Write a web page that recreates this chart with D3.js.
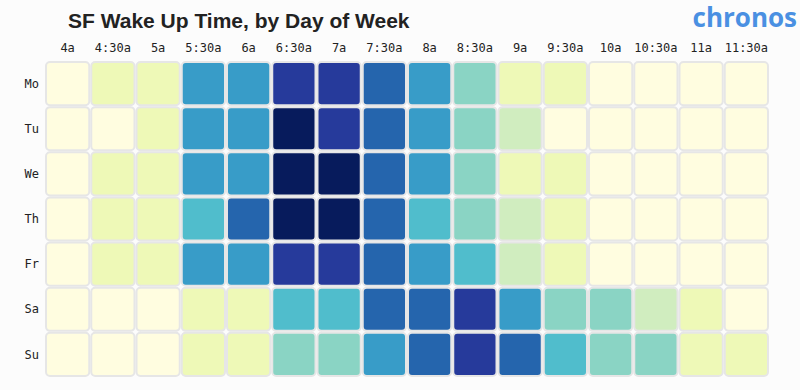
<!DOCTYPE html>
<html><head><meta charset="utf-8">
<script src="https://cdn.jsdelivr.net/npm/d3@7/dist/d3.min.js"></script>
<style>body{margin:0;background:#fcfcfc;}svg{display:block;}</style>
</head><body><svg id="c" width="800" height="390"></svg>
<script>
const days = ["Mo","Tu","We","Th","Fr","Sa","Su"];
const times = ["4a","4:30a","5a","5:30a","6a","6:30a","7a","7:30a","8a","8:30a","9a","9:30a","10a","10:30a","11a","11:30a"];
// intensity level per day (rows) x time (cols)
const mo = [0,1,1,5,5,7,7,6,5,3,1,1,0,0,0,0];
const tu = [0,0,1,5,5,8,7,6,5,3,2,0,0,0,0,0];
const we = [0,1,1,5,5,8,8,6,5,3,1,1,0,0,0,0];
const th = [0,1,1,4,6,8,8,6,4,3,2,1,0,0,0,0];
const fr = [0,1,1,5,5,7,7,6,5,4,2,1,0,0,0,0];
const sa = [0,0,0,1,1,4,4,6,6,7,5,3,3,2,1,0];
const su = [0,0,0,1,1,3,3,5,6,7,6,4,3,3,1,1];
const values = [mo,tu,we,th,fr,sa,su];
const colors = ["#fffde0","#eef9b7","#d0edbf","#8ad4c4","#50bdcc","#389cc8","#2565ad","#263a9b","#071b5c"];

const svg = d3.select("#c");
const gLeft = 45, gTop = 61, gridW = 724, gridH = 316;
const x = d3.scaleBand().domain(times).range([gLeft, gLeft+gridW]);
const y = d3.scaleBand().domain(days).range([gTop, gTop+gridH]);
const color = d3.scaleQuantize().domain([0,9]).range(colors);

const cells = [];
values.forEach((row,i)=>row.forEach((v,j)=>cells.push({day:days[i],time:times[j],v})));

svg.append("g").selectAll("rect").data(cells).join("rect")
  .attr("x",d=>x(d.time)+1).attr("y",d=>y(d.day)+1)
  .attr("width",x.bandwidth()-2).attr("height",y.bandwidth()-2)
  .attr("rx",4).attr("ry",4)
  .attr("fill",d=>color(d.v))
  .attr("stroke","#e6e6e6").attr("stroke-width",2);

svg.append("g").selectAll("text").data(times).join("text")
  .attr("x",d=>x(d)+x.bandwidth()/2).attr("y",52)
  .attr("text-anchor","middle")
  .style("font-family","'DejaVu Sans Mono', monospace").style("font-size","12px").attr("fill","#222")
  .text(d=>d);

svg.append("g").selectAll("text").data(days).join("text")
  .attr("x",39).attr("y",d=>y(d)+y.bandwidth()/2)
  .attr("dy","0.35em").attr("text-anchor","end")
  .style("font-family","'DejaVu Sans Mono', monospace").style("font-size","12px").attr("fill","#222")
  .text(d=>d);

svg.append("text").attr("x",68).attr("y",28)
  .style("font-family","'Liberation Sans', Arial, sans-serif").style("font-weight","bold").style("font-size","21px").attr("fill","#222")
  .text("SF Wake Up Time, by Day of Week");

svg.append("text").attr("x",797).attr("y",27).attr("text-anchor","end")
  .style("font-family","'Open Sans', sans-serif").style("font-weight","bold").style("font-size","26px").attr("fill","#4a90e2")
  .text("chronos");
</script></body></html>
